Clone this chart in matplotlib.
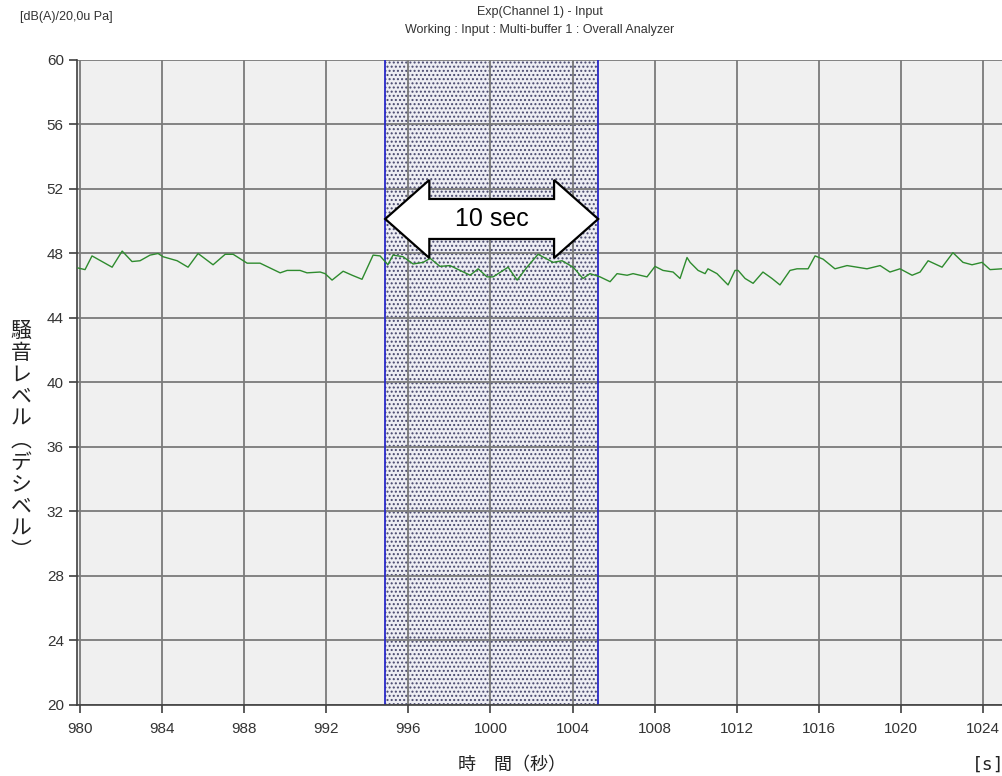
import numpy as np
import matplotlib
matplotlib.use("Agg")
import matplotlib.pyplot as plt
from matplotlib.patches import Polygon

# sound level trace
t = [979.9, 980.24, 980.58, 981.56, 982.05, 982.53, 982.92, 983.41, 983.8, 984.04,
     984.73, 985.26, 985.75, 986.48, 987.07, 987.46, 988.14, 988.77, 989.75, 990.09,
     990.72, 991.06, 991.7, 991.94, 992.28, 992.82, 993.26, 993.74, 994.28, 994.62,
     995.0, 995.25, 995.74, 996.23, 996.72, 997.06, 997.54, 998.03, 998.52, 999.01,
     999.4, 999.83, 1000.13, 1000.86, 1001.3, 1001.78, 1002.32, 1002.76, 1003.05, 1003.49,
     1004.03, 1004.51, 1004.85, 1005.34, 1005.83, 1006.17, 1006.66, 1006.95, 1007.63, 1008.02,
     1008.41, 1008.9, 1009.24, 1009.58, 1009.73, 1010.12, 1010.46, 1010.6, 1011.04, 1011.58,
     1011.92, 1012.07, 1012.41, 1012.8, 1013.28, 1013.72, 1014.11, 1014.6, 1014.94, 1015.48,
     1015.82, 1016.21, 1016.79, 1017.38, 1017.87, 1018.35, 1018.99, 1019.47, 1019.96, 1020.55,
     1020.94, 1021.33, 1022.01, 1022.54, 1023.03, 1023.47, 1023.96, 1024.35, 1024.93]
level = [47.1, 47.0, 47.85, 47.15, 48.15, 47.5, 47.55, 47.9, 48.0, 47.8,
         47.55, 47.15, 48.0, 47.3, 47.95, 47.95, 47.4, 47.4, 46.8, 46.95,
         46.95, 46.8, 46.85, 46.75, 46.35, 46.9, 46.65, 46.4, 47.9, 47.85,
         47.3, 47.9, 47.8, 47.35, 47.45, 47.7, 47.2, 47.25, 46.95, 46.65,
         47.05, 46.55, 46.55, 47.15, 46.35, 47.15, 47.95, 47.65, 47.45, 47.55,
         47.15, 46.45, 46.75, 46.55, 46.25, 46.75, 46.65, 46.75, 46.55, 47.2,
         46.95, 46.85, 46.45, 47.75, 47.45, 46.95, 46.75, 47.05, 46.75, 46.05,
         46.95, 46.95, 46.45, 46.15, 46.85, 46.45, 46.05, 46.95, 47.05, 47.05,
         47.85, 47.65, 47.05, 47.25, 47.15, 47.05, 47.25, 46.85, 47.05, 46.65,
         46.85, 47.55, 47.15, 48.05, 47.45, 47.3, 47.45, 47.0, 47.05]

x_ticks = [980, 984, 988, 992, 996, 1000, 1004, 1008, 1012, 1016, 1020, 1024]
y_ticks = [20, 24, 28, 32, 36, 40, 44, 48, 52, 56, 60]
span = (994.87, 1005.25)
arrow_y = 50.14
arrow_label = "10 sec"

plt.rcParams["font.family"] = ["Liberation Sans", "Noto Sans CJK JP", "DejaVu Sans"]
plt.rcParams["hatch.linewidth"] = 0.95
plt.rcParams["hatch.color"] = "#48486e"

fig = plt.figure(figsize=(10.03, 7.76), dpi=100)
ax = fig.add_axes([0.0768, 0.0915, 0.9232, 0.8312])
ax.set_facecolor("#f0f0f0")

# selected window
ax.axvspan(span[0], span[1], facecolor="#ededf3", edgecolor="#48486e",
           hatch="....", linewidth=0, zorder=1)
for xv in span:
    ax.axvline(xv, color="#2828c8", lw=1.3, zorder=2)

ax.plot(t, level, color="#2e8b2e", lw=1.0, zorder=3)

# double headed block arrow spanning the window
head_len = 2.15
head_half = 2.42
body_half = 1.24
x0, x1 = span
arrow_pts = [(x0, arrow_y), (x0 + head_len, arrow_y + head_half),
             (x0 + head_len, arrow_y + body_half), (x1 - head_len, arrow_y + body_half),
             (x1 - head_len, arrow_y + head_half), (x1, arrow_y),
             (x1 - head_len, arrow_y - head_half), (x1 - head_len, arrow_y - body_half),
             (x0 + head_len, arrow_y - body_half), (x0 + head_len, arrow_y - head_half)]
ax.add_patch(Polygon(arrow_pts, closed=True, facecolor="white",
                     edgecolor="black", lw=1.6, zorder=4))
ax.text((x0 + x1) / 2, arrow_y, arrow_label, ha="center", va="center",
        fontsize=18, zorder=5)

ax.set_xlim(979.85, 1024.98)
ax.set_ylim(20, 60)
ax.set_xticks(x_ticks)
ax.set_yticks(y_ticks)
ax.grid(True, color="#7a7a7a", lw=1.3)
ax.tick_params(axis="both", direction="out", length=6, width=1.2,
               color="#404040", labelsize=11, labelcolor="#333333")
ax.tick_params(axis="x", pad=6)
for s in ["top", "right"]:
    ax.spines[s].set_visible(False)
for s in ["left", "bottom"]:
    ax.spines[s].set_color("#404040")
    ax.spines[s].set_linewidth(1.2)

fig.text(0.02, 0.978, "[dB(A)/20,0u Pa]", fontsize=9, color="#333333", va="center")
fig.text(0.538, 0.984, "Exp(Channel 1) - Input", fontsize=9, color="#333333",
         ha="center", va="center")
fig.text(0.538, 0.961, "Working : Input : Multi-buffer 1 : Overall Analyzer",
         fontsize=9, color="#333333", ha="center", va="center")

ylabel = "騒音レベル︵デシベル︶"
fig.text(0.021, 0.432, "\n".join(ylabel), fontsize=15, ha="center", va="center",
         linespacing=1.0, family=["Noto Sans CJK JP", "DejaVu Sans"], color="#222222")
fig.text(0.51, 0.014, "時　間（秒）", fontsize=13, ha="center", va="center",
         family=["Noto Sans CJK JP", "DejaVu Sans"], color="#222222")
fig.text(0.985, 0.014, "[s]", fontsize=13, ha="center", va="center",
         family=["DejaVu Sans Mono"], color="#222222")

fig.savefig("out.png", dpi=100)
